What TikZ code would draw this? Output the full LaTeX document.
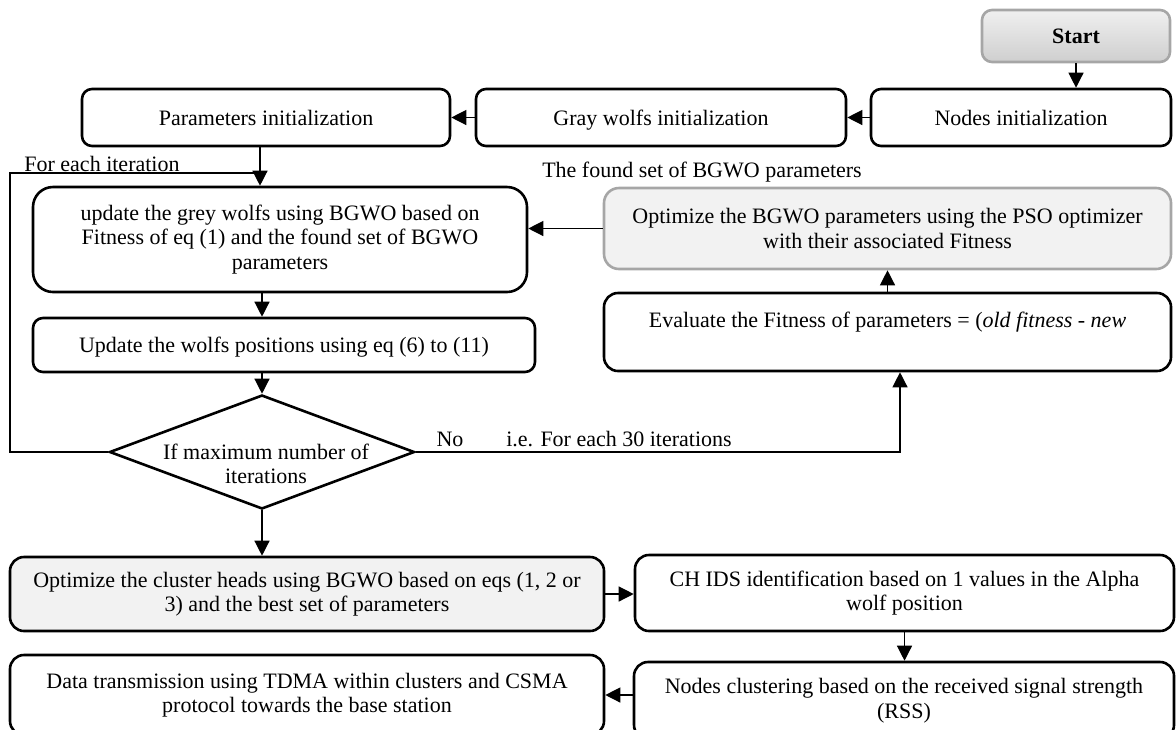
\documentclass[tikz,border=0pt]{standalone}
\usepackage{fontspec}
\setmainfont{Liberation Serif}
\usepackage{tikz}
\usetikzlibrary{
    arrows.meta,
    shapes.geometric
}
\definecolor{boxfill}{HTML}{F2F2F2}
\definecolor{boxgray}{HTML}{A6A6A6}
\tikzset{
    stepbox/.style={draw, line width=1.3pt, rounded corners=5pt, align=center, inner sep=2pt},
    oneline/.style={text height=7.6pt, text depth=0pt},
    flow/.style={line width=0.65pt, -{Triangle[length=7.5pt,width=7.5pt]}},
    link/.style={line width=0.65pt},
    lbl/.style={inner sep=0pt}
}

\begin{document}
\begin{tikzpicture}[x=0.5pt, y=-0.5pt, font=\fontsize{11}{12.25}\selectfont]
    \useasboundingbox (0, 0) rectangle (1176, 729);
    \clip (0, 0) rectangle (1176, 729);

    % first row
    \node[stepbox, oneline, draw=boxgray, top color=gray!12, bottom color=gray!38, minimum width=94pt, minimum height=26pt] (start) at (1076, 36) {\textbf{Start}};
    \node[stepbox, oneline, minimum width=150pt, minimum height=28.5pt] (nodesinit) at (1021, 117.5) {Nodes initialization};
    \node[stepbox, oneline, minimum width=185pt, minimum height=28.5pt] (graywolf) at (661, 117.5) {Gray wolfs initialization};
    \node[stepbox, oneline, minimum width=184pt, minimum height=28.5pt] (params) at (266, 117.5) {Parameters initialization};

    % loop body
    \node[stepbox, rounded corners=10pt, minimum width=247pt, minimum height=52.5pt] (update) at (280, 239.5) {update the grey wolfs using BGWO based on\\Fitness of eq (1) and the found set of BGWO\\parameters};
    \node[stepbox, oneline, minimum width=251pt, minimum height=27pt] (wolfpos) at (284, 345) {Update the wolfs positions using eq (6) to (11)};
    \node[diamond, draw, line width=1.3pt, minimum width=152.5pt, minimum height=57pt, inner sep=0pt] (dec) at (262, 452) {};
    \node[align=center] (dectext) at (266, 464) {If maximum number of\\iterations};

    % parameter tuning
    \node[stepbox, draw=boxgray, fill=boxfill, rounded corners=7.5pt, minimum width=283.5pt, minimum height=40.5pt] (pso) at (887.5, 228.5) {Optimize the BGWO parameters using the PSO optimizer\\with their associated Fitness};
    \node[stepbox, rounded corners=7pt, minimum width=283.5pt, minimum height=39pt] (eval) at (887.5, 332) {Evaluate the Fitness of parameters = (\textit{old fitness} - \textit{new}\\\phantom{X}};

    % last rows
    \node[stepbox, fill=boxfill, rounded corners=7pt, minimum width=297pt, minimum height=37pt] (cluster) at (307, 594) {Optimize the cluster heads using BGWO based on eqs (1, 2 or\\3) and the best set of parameters};
    \node[stepbox, rounded corners=7pt, minimum width=269.5pt, minimum height=38pt] (chids) at (904.5, 593) {CH IDS identification based on 1 values in the Alpha\\wolf position};
    \node[stepbox, rounded corners=7pt, minimum width=270pt, minimum height=38.5pt] (nclust) at (904, 700.5) {Nodes clustering based on the received signal strength\\(RSS)};
    \node[stepbox, rounded corners=7pt, minimum width=297pt, minimum height=40pt] (data) at (307, 695) {Data transmission using TDMA within clusters and CSMA\\protocol towards the base station};

    % labels
    \node[lbl, anchor=base west] (iterlbl) at (24, 171) {For each iteration};
    \node[lbl, anchor=base] (foundlbl) at (702, 177) {The found set of BGWO parameters};
    \node[lbl, anchor=base] (nolbl) at (450, 446) {No};
    \node[lbl, anchor=base] (everylbl) at (619, 446) {i.e. For each 30 iterations};

    \coordinate (col) at (260, 0);
    \coordinate (loopbot) at (10, 452);
    \coordinate (looptop) at (10, 173);
    \coordinate (nocorner) at (900, 452);

    \draw[flow] (start.south) -- (start.south |- nodesinit.north);
    \draw[flow] (nodesinit.west) -- (graywolf.east);
    \draw[flow] (graywolf.west) -- (params.east);
    \draw[flow] (params.south -| col) -- (update.north -| col);
    \draw[flow] (update.south -| dec.north) -- (wolfpos.north -| dec.north);
    \draw[flow] (wolfpos.south -| dec.north) -- (dec.north);
    \draw[flow] (dec.south) -- (cluster.north -| dec.south);
    \draw[link] (dec.west) -- (loopbot) -- (looptop) -- (looptop -| col);
    \draw[flow] (dec.east) -- (nocorner) -- (eval.south -| nocorner);
    \draw[flow] (eval.north) -- (pso.south);
    \draw[flow] (pso.west) -- (pso.west -| update.east);
    \draw[flow] (cluster.east) -- (cluster.east -| chids.west);
    \draw[flow] (chids.south) -- (chids.south |- nclust.north);
    \draw[flow] (data.east -| nclust.west) -- (data.east);
\end{tikzpicture}
\end{document}
